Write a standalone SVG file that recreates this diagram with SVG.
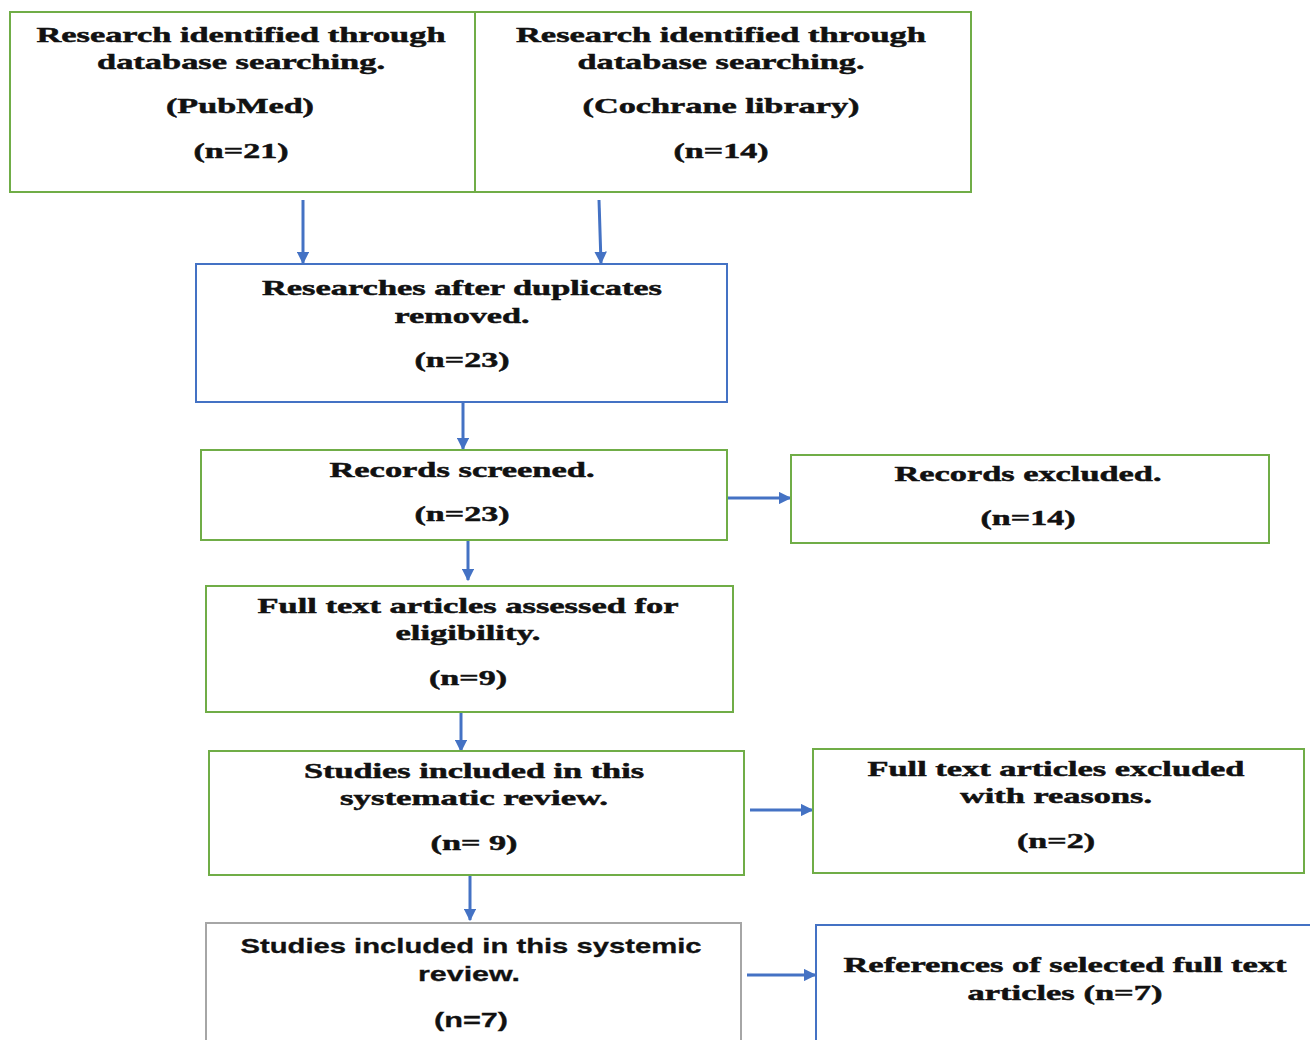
<svg xmlns="http://www.w3.org/2000/svg" width="1310" height="1040" viewBox="0 0 1310 1040">
<defs>
<style>
.box{fill:#fff;stroke-width:2}
.g{stroke:#70AD47}
.b{stroke:#4472C4}
.gr{stroke:#A6A6A6}
.t{font-family:"Liberation Serif","Times New Roman",serif;font-weight:bold;font-size:22px;fill:#111;stroke:#111;stroke-width:0.5;text-anchor:middle}
.s{font-family:"Liberation Sans",Arial,sans-serif;font-weight:bold;font-size:21px;fill:#111;stroke:#111;stroke-width:0.3;text-anchor:middle}
.c{stroke:#4472C4;stroke-width:3;fill:none}
</style>
<marker id="ah" viewBox="0 0 10 10" refX="9" refY="5" markerWidth="4.2" markerHeight="4.2" orient="auto" markerUnits="strokeWidth">
<path d="M0,0 L10,5 L0,10 z" fill="#4472C4"/>
</marker>
</defs>
<rect width="1310" height="1040" fill="#fff"/>
<g id="connectors">
<line class="c" x1="303" y1="200" x2="303" y2="263" marker-end="url(#ah)"/>
<line class="c" x1="599" y1="200" x2="601" y2="263" marker-end="url(#ah)"/>
<line class="c" x1="463" y1="398" x2="463" y2="449" marker-end="url(#ah)"/>
<line class="c" x1="727" y1="498" x2="790" y2="498" marker-end="url(#ah)"/>
<line class="c" x1="468" y1="536" x2="468" y2="580" marker-end="url(#ah)"/>
<line class="c" x1="461" y1="709" x2="461" y2="751" marker-end="url(#ah)"/>
<line class="c" x1="750" y1="810" x2="812" y2="810" marker-end="url(#ah)"/>
<line class="c" x1="470" y1="873" x2="470" y2="920" marker-end="url(#ah)"/>
<line class="c" x1="747" y1="975" x2="815" y2="975" marker-end="url(#ah)"/>
</g>
<g id="n1">
<rect class="box g" x="10" y="12" width="465" height="180"/>
<text class="t" x="241" y="42" textLength="409" lengthAdjust="spacingAndGlyphs">Research identified through</text>
<text class="t" x="241" y="69" textLength="288" lengthAdjust="spacingAndGlyphs">database searching.</text>
<text class="t" x="240" y="113" textLength="148" lengthAdjust="spacingAndGlyphs">(PubMed)</text>
<text class="t" x="241" y="158" textLength="95" lengthAdjust="spacingAndGlyphs">(n=21)</text>
</g>
<g id="n2">
<rect class="box g" x="475" y="12" width="496" height="180"/>
<text class="t" x="721" y="42" textLength="410" lengthAdjust="spacingAndGlyphs">Research identified through</text>
<text class="t" x="721" y="69" textLength="287" lengthAdjust="spacingAndGlyphs">database searching.</text>
<text class="t" x="721" y="113" textLength="277" lengthAdjust="spacingAndGlyphs">(Cochrane library)</text>
<text class="t" x="721" y="158" textLength="95" lengthAdjust="spacingAndGlyphs">(n=14)</text>
</g>
<g id="n3">
<rect class="box b" x="196" y="264" width="531" height="138"/>
<text class="t" x="462" y="295" textLength="400" lengthAdjust="spacingAndGlyphs">Researches after duplicates</text>
<text class="t" x="462" y="323" textLength="135" lengthAdjust="spacingAndGlyphs">removed.</text>
<text class="t" x="462" y="367" textLength="95" lengthAdjust="spacingAndGlyphs">(n=23)</text>
</g>
<g id="n4">
<rect class="box g" x="201" y="450" width="526" height="90"/>
<text class="t" x="462" y="477" textLength="265" lengthAdjust="spacingAndGlyphs">Records screened.</text>
<text class="t" x="462" y="521" textLength="95" lengthAdjust="spacingAndGlyphs">(n=23)</text>
</g>
<g id="n5">
<rect class="box g" x="791" y="455" width="478" height="88"/>
<text class="t" x="1028" y="481" textLength="267" lengthAdjust="spacingAndGlyphs">Records excluded.</text>
<text class="t" x="1028" y="525" textLength="95" lengthAdjust="spacingAndGlyphs">(n=14)</text>
</g>
<g id="n6">
<rect class="box g" x="206" y="586" width="527" height="126"/>
<text class="t" x="468" y="613" textLength="421" lengthAdjust="spacingAndGlyphs">Full text articles assessed for</text>
<text class="t" x="468" y="640" textLength="145" lengthAdjust="spacingAndGlyphs">eligibility.</text>
<text class="t" x="468" y="685" textLength="78" lengthAdjust="spacingAndGlyphs">(n=9)</text>
</g>
<g id="n7">
<rect class="box g" x="209" y="751" width="535" height="124"/>
<text class="t" x="474" y="778" textLength="340" lengthAdjust="spacingAndGlyphs">Studies included in this</text>
<text class="t" x="474" y="805" textLength="268" lengthAdjust="spacingAndGlyphs">systematic review.</text>
<text class="t" x="474" y="850" textLength="87" lengthAdjust="spacingAndGlyphs">(n= 9)</text>
</g>
<g id="n8">
<rect class="box g" x="813" y="749" width="491" height="124"/>
<text class="t" x="1056" y="776" textLength="377" lengthAdjust="spacingAndGlyphs">Full text articles excluded</text>
<text class="t" x="1056" y="803" textLength="192" lengthAdjust="spacingAndGlyphs">with reasons.</text>
<text class="t" x="1056" y="848" textLength="78" lengthAdjust="spacingAndGlyphs">(n=2)</text>
</g>
<g id="n9">
<rect class="box gr" x="206" y="923" width="535" height="130"/>
<text class="s" x="471" y="953" textLength="461" lengthAdjust="spacingAndGlyphs">Studies included in this systemic</text>
<text class="s" x="469" y="981" textLength="102" lengthAdjust="spacingAndGlyphs">review.</text>
<text class="s" x="471" y="1027" textLength="74" lengthAdjust="spacingAndGlyphs">(n=7)</text>
</g>
<g id="n10">
<rect class="box b" x="816" y="925" width="510" height="130"/>
<text class="t" x="1065" y="972" textLength="443" lengthAdjust="spacingAndGlyphs">References of selected full text</text>
<text class="t" x="1065" y="1000" textLength="195" lengthAdjust="spacingAndGlyphs">articles (n=7)</text>
</g>
</svg>
